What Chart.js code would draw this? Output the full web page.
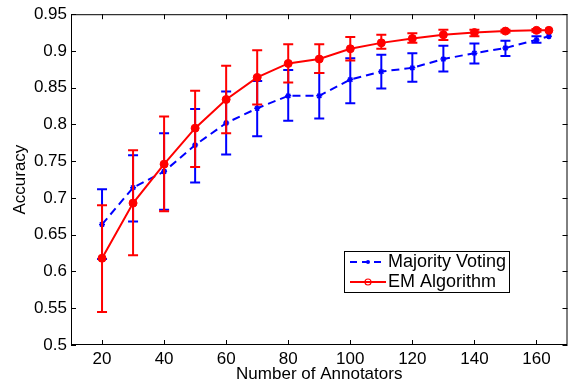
<!DOCTYPE html>
<html>
<head>
<meta charset="utf-8">
<script src="https://cdn.jsdelivr.net/npm/chart.js@4.4.0/dist/chart.umd.min.js"></script>
<style>
html, body { margin: 0; padding: 0; background: #fff; }
#wrap { width: 573px; height: 381px; }
</style>
</head>
<body>
<div id="wrap"><canvas id="myChart" width="573" height="381"></canvas></div>
<script>
var annotators = [20, 30, 40, 50, 60, 70, 80, 90, 100, 110, 120, 130, 140, 150, 160, 164];

var majorityVoting = [0.664, 0.714, 0.736, 0.772, 0.802, 0.822, 0.839, 0.839, 0.861, 0.872, 0.877, 0.889, 0.897, 0.904, 0.915, 0.920];
var majorityLow = [0.617, 0.668, 0.684, 0.721, 0.759, 0.784, 0.805, 0.808, 0.829, 0.849, 0.858, 0.872, 0.883, 0.893, 0.911, null];
var majorityHigh = [0.712, 0.758, 0.788, 0.821, 0.845, 0.859, 0.874, 0.870, 0.890, 0.895, 0.897, 0.907, 0.910, 0.914, 0.920, null];

var emAlgorithm = [0.618, 0.693, 0.746, 0.795, 0.834, 0.864, 0.883, 0.889, 0.903, 0.911, 0.917, 0.922, 0.925, 0.927, 0.928, 0.928];
var emLow = [0.545, 0.622, 0.682, 0.742, 0.788, 0.827, 0.857, 0.870, 0.887, 0.903, 0.911, 0.915, 0.920, 0.925, 0.926, null];
var emHigh = [0.690, 0.765, 0.811, 0.846, 0.880, 0.901, 0.909, 0.909, 0.919, 0.922, 0.924, 0.929, 0.929, 0.929, 0.930, null];

var xTicks = [20, 40, 60, 80, 100, 120, 140, 160];
var yTicks = [0.5, 0.55, 0.6, 0.65, 0.7, 0.75, 0.8, 0.85, 0.9, 0.95];

var FONT = 'Liberation Sans, Arial, Helvetica, sans-serif';

function toPoints(ys) {
    return annotators.map(function (x, i) { return { x: x, y: ys[i] }; });
}

var errorBars = [
    { low: majorityLow, high: majorityHigh, color: '#0000ff' },
    { low: emLow, high: emHigh, color: '#ff0000' }
];

// error bars go under each dataset's own line
var errorBarPlugin = {
    id: 'errorBars',
    beforeDatasetDraw: function (chart, args) {
        var eb = errorBars[args.index];
        var ctx = chart.ctx;
        var xs = chart.scales.x, ys = chart.scales.y;
        ctx.save();
        ctx.strokeStyle = eb.color;
        ctx.lineWidth = 2;
        for (var i = 0; i < annotators.length; i++) {
            if (eb.low[i] == null) continue;
            var px = xs.getPixelForValue(annotators[i]);
            var lo = ys.getPixelForValue(eb.low[i]);
            var hi = ys.getPixelForValue(eb.high[i]);
            ctx.beginPath();
            ctx.moveTo(px, lo); ctx.lineTo(px, hi);
            ctx.moveTo(px - 5, lo); ctx.lineTo(px + 5, lo);
            ctx.moveTo(px - 5, hi); ctx.lineTo(px + 5, hi);
            ctx.stroke();
        }
        ctx.restore();
    }
};

// matlab style box, inward ticks and legend
var framePlugin = {
    id: 'frame',
    afterDraw: function (chart) {
        var ctx = chart.ctx;
        var a = chart.chartArea;
        var xs = chart.scales.x, ys = chart.scales.y;
        ctx.save();
        ctx.strokeStyle = '#000';
        ctx.lineWidth = 1;
        ctx.strokeRect(a.left + 0.5, a.top + 0.5, a.right - a.left - 1, a.bottom - a.top - 1);
        ctx.beginPath();
        xTicks.forEach(function (v) {
            var px = Math.round(xs.getPixelForValue(v)) + 0.5;
            ctx.moveTo(px, a.bottom); ctx.lineTo(px, a.bottom - 5);
            ctx.moveTo(px, a.top); ctx.lineTo(px, a.top + 5);
        });
        yTicks.forEach(function (v) {
            var py = Math.round(ys.getPixelForValue(v)) + 0.5;
            ctx.moveTo(a.left, py); ctx.lineTo(a.left + 5, py);
            ctx.moveTo(a.right, py); ctx.lineTo(a.right - 5, py);
        });
        ctx.stroke();

        // legend
        var lx = 344, ly = 251, lw = 165, lh = 41;
        ctx.fillStyle = '#fff';
        ctx.fillRect(lx, ly, lw, lh);
        ctx.strokeRect(lx + 0.5, ly + 0.5, lw, lh);
        var rows = [
            { label: chart.data.datasets[0].label, color: '#0000ff', dash: [7, 5], y: 262, star: true },
            { label: chart.data.datasets[1].label, color: '#ff0000', dash: [], y: 282, star: false }
        ];
        rows.forEach(function (r) {
            ctx.strokeStyle = r.color;
            ctx.lineWidth = 2;
            ctx.setLineDash(r.dash);
            ctx.beginPath();
            ctx.moveTo(350, r.y); ctx.lineTo(386, r.y);
            ctx.stroke();
            ctx.setLineDash([]);
            ctx.lineWidth = 1.2;
            ctx.beginPath();
            if (r.star) {
                ctx.fillStyle = r.color;
                ctx.arc(368, r.y, 2, 0, Math.PI * 2);
                ctx.fill();
            } else {
                ctx.arc(368, r.y, 3, 0, Math.PI * 2);
                ctx.stroke();
            }
            ctx.fillStyle = '#000';
            ctx.font = '18px ' + FONT;
            ctx.textBaseline = 'middle';
            ctx.textAlign = 'left';
            ctx.fillText(r.label, 388, r.y);
        });
        ctx.restore();
    }
};

var ctx = document.getElementById('myChart');
var myChart = new Chart(ctx, {
    type: 'line',
    data: {
        datasets: [{
            label: 'Majority Voting',
            data: toPoints(majorityVoting),
            borderColor: '#0000ff',
            backgroundColor: '#0000ff',
            borderWidth: 2,
            borderDash: [8, 5],
            pointStyle: 'star',
            pointRadius: 3,
            pointBorderWidth: 1.5,
            order: 1
        }, {
            label: 'EM Algorithm',
            data: toPoints(emAlgorithm),
            borderColor: '#ff0000',
            backgroundColor: '#ff0000',
            borderWidth: 2,
            pointStyle: 'circle',
            pointRadius: 4,
            pointBorderWidth: 1,
            order: 0
        }]
    },
    options: {
        responsive: false,
        devicePixelRatio: 1,
        animation: false,
        layout: { padding: { top: 12, right: 1, left: 0, bottom: 0 } },
        plugins: {
            legend: { display: false },
            tooltip: { enabled: false }
        },
        scales: {
            x: {
                type: 'linear',
                min: 10,
                max: 170,
                afterBuildTicks: function (scale) {
                    scale.ticks = xTicks.map(function (v) { return { value: v }; });
                },
                afterFit: function (scale) { scale.height = 36; },
                grid: { display: false, drawTicks: false },
                border: { display: false },
                ticks: { color: '#000', padding: 4, maxRotation: 0, font: { family: FONT, size: 17 } },
                title: {
                    display: true,
                    text: 'Number of Annotators',
                    color: '#000',
                    padding: { top: 0, bottom: -4 },
                    font: { family: FONT, size: 17 }
                }
            },
            y: {
                min: 0.5,
                max: 0.95,
                afterBuildTicks: function (scale) {
                    scale.ticks = yTicks.map(function (v) { return { value: v }; });
                },
                afterFit: function (scale) { scale.width = 71; },
                grid: { display: false, drawTicks: false },
                border: { display: false },
                ticks: {
                    color: '#000',
                    padding: 4,
                    font: { family: FONT, size: 17 },
                    callback: function (v) { return String(Math.round(v * 100) / 100); }
                },
                title: {
                    display: true,
                    text: 'Accuracy',
                    color: '#000',
                    padding: { top: 10, bottom: 0 },
                    font: { family: FONT, size: 17 }
                }
            }
        }
    },
    plugins: [errorBarPlugin, framePlugin]
});
</script>
</body>
</html>
